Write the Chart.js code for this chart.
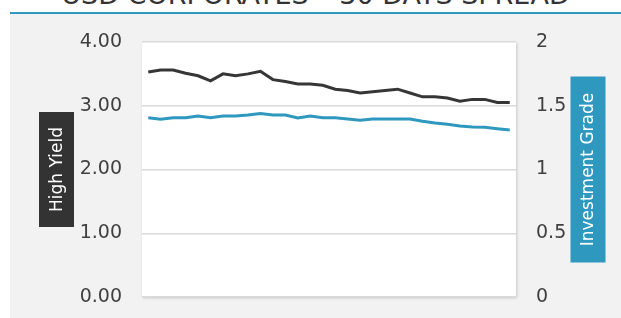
<!DOCTYPE html>
<html>
<head>
<meta charset="utf-8">
<script src="https://cdn.jsdelivr.net/npm/chart.js@4"></script>
<style>
  html, body { margin: 0; padding: 0; background: #ffffff; }
  body { width: 621px; height: 318px; overflow: hidden; position: relative; }
  #title { position: absolute; left: 10px; width: 611px; top: -19px; text-align: center;
           font: 27px 'DejaVu Sans', sans-serif; line-height: 27px; color: #333333; white-space: nowrap; }
  #panel { position: absolute; left: 10px; top: 12px; width: 611px; height: 304px;
           background: #f2f2f2; border-top: 2px solid #2f98bf; }
  #wrap { position: absolute; left: 0; top: 0; width: 621px; height: 318px; }
</style>
</head>
<body>
<div id="title">USD CORPORATES – 30 DAYS SPREAD</div>
<div id="panel"></div>
<div id="wrap"><canvas id="c" width="621" height="318"></canvas></div>
<script>
// ---- data ----
const days = ['1','2','3','4','5','6','7','8','9','10','11','12','13','14','15',
              '16','17','18','19','20','21','22','23','24','25','26','27','28','29','30'];
const highYield = [3.53,3.56,3.56,3.51,3.47,3.39,3.50,3.47,3.50,3.54,3.41,3.38,3.34,3.34,3.32,
                   3.26,3.24,3.20,3.22,3.24,3.26,3.20,3.14,3.14,3.12,3.07,3.10,3.10,3.05,3.05];
const investmentGrade = [1.406,1.394,1.406,1.406,1.420,1.406,1.420,1.420,1.427,1.440,1.427,1.427,1.404,1.420,1.406,
                         1.406,1.396,1.386,1.396,1.396,1.396,1.396,1.378,1.365,1.355,1.341,1.333,1.331,1.320,1.310];
const leftTicks = [0, 1, 2, 3, 4];
const rightTicks = [0, 0.5, 1, 1.5, 2];
const leftTitle = 'High Yield';
const rightTitle = 'Investment Grade';

const DARK = '#363636';
const BLUE = '#2f98bf';
const TICK_FONT = { family: 'DejaVu Sans', size: 19 };

const decor = {
  id: 'decor',
  beforeDraw(chart) {
    const { ctx, chartArea: a } = chart;
    ctx.save();
    ctx.shadowColor = 'rgba(0,0,0,0.18)';
    ctx.shadowBlur = 3;
    ctx.shadowOffsetX = 1;
    ctx.shadowOffsetY = 1;
    ctx.fillStyle = '#ffffff';
    ctx.fillRect(a.left, a.top, a.width, a.height);
    ctx.restore();
  },
  afterDraw(chart) {
    const { ctx, chartArea: a } = chart;
    const cy = (a.top + a.bottom) / 2;
    function box(cx, h, color, text) {
      const w = 35;
      ctx.save();
      ctx.fillStyle = color;
      ctx.fillRect(cx - w / 2, cy - h / 2, w, h);
      ctx.translate(cx, cy);
      ctx.rotate(-Math.PI / 2);
      ctx.fillStyle = '#ffffff';
      ctx.font = '17px "DejaVu Sans"';
      ctx.textAlign = 'center';
      ctx.textBaseline = 'middle';
      ctx.fillText(text, 0, 1);
      ctx.restore();
    }
    box(chart.scales.y.left + 56.5, 115, '#333333', leftTitle);
    box(chart.scales.y1.left + 72, 186, BLUE, rightTitle);
  }
};

function fitLeft(s) { s.width = 142; s.paddingTop = 0; s.paddingBottom = 0; }
function fitRight(s) { s.width = 105; s.paddingTop = 0; s.paddingBottom = 0; }

new Chart(document.getElementById('c'), {
  type: 'line',
  data: {
    labels: days,
    datasets: [
      { label: leftTitle, data: highYield, yAxisID: 'y', borderColor: DARK, backgroundColor: DARK,
        borderWidth: 3, pointRadius: 0, tension: 0 },
      { label: rightTitle, data: investmentGrade, yAxisID: 'y1', borderColor: BLUE, backgroundColor: BLUE,
        borderWidth: 3, pointRadius: 0, tension: 0 }
    ]
  },
  options: {
    responsive: false,
    animation: false,
    layout: { padding: { top: 42, bottom: 21, left: 0, right: 0 } },
    plugins: { legend: { display: false }, tooltip: { enabled: false }, title: { display: false } },
    scales: {
      x: { display: false, offset: true },
      y: {
        position: 'left', min: 0, max: 4,
        afterBuildTicks: s => { s.ticks = leftTicks.map(v => ({ value: v })); },
        afterFit: fitLeft,
        ticks: { padding: 20, font: TICK_FONT, color: '#404040', callback: v => Number(v).toFixed(2) },
        grid: { color: '#dadada', lineWidth: 1.5, drawTicks: false },
        border: { display: false }
      },
      y1: {
        position: 'right', min: 0, max: 2,
        afterBuildTicks: s => { s.ticks = rightTicks.map(v => ({ value: v })); },
        afterFit: fitRight,
        ticks: { padding: 20, font: TICK_FONT, color: '#404040', callback: v => String(v) },
        grid: { display: false, drawTicks: false },
        border: { display: false }
      }
    }
  },
  plugins: [decor]
});
</script>
</body>
</html>
